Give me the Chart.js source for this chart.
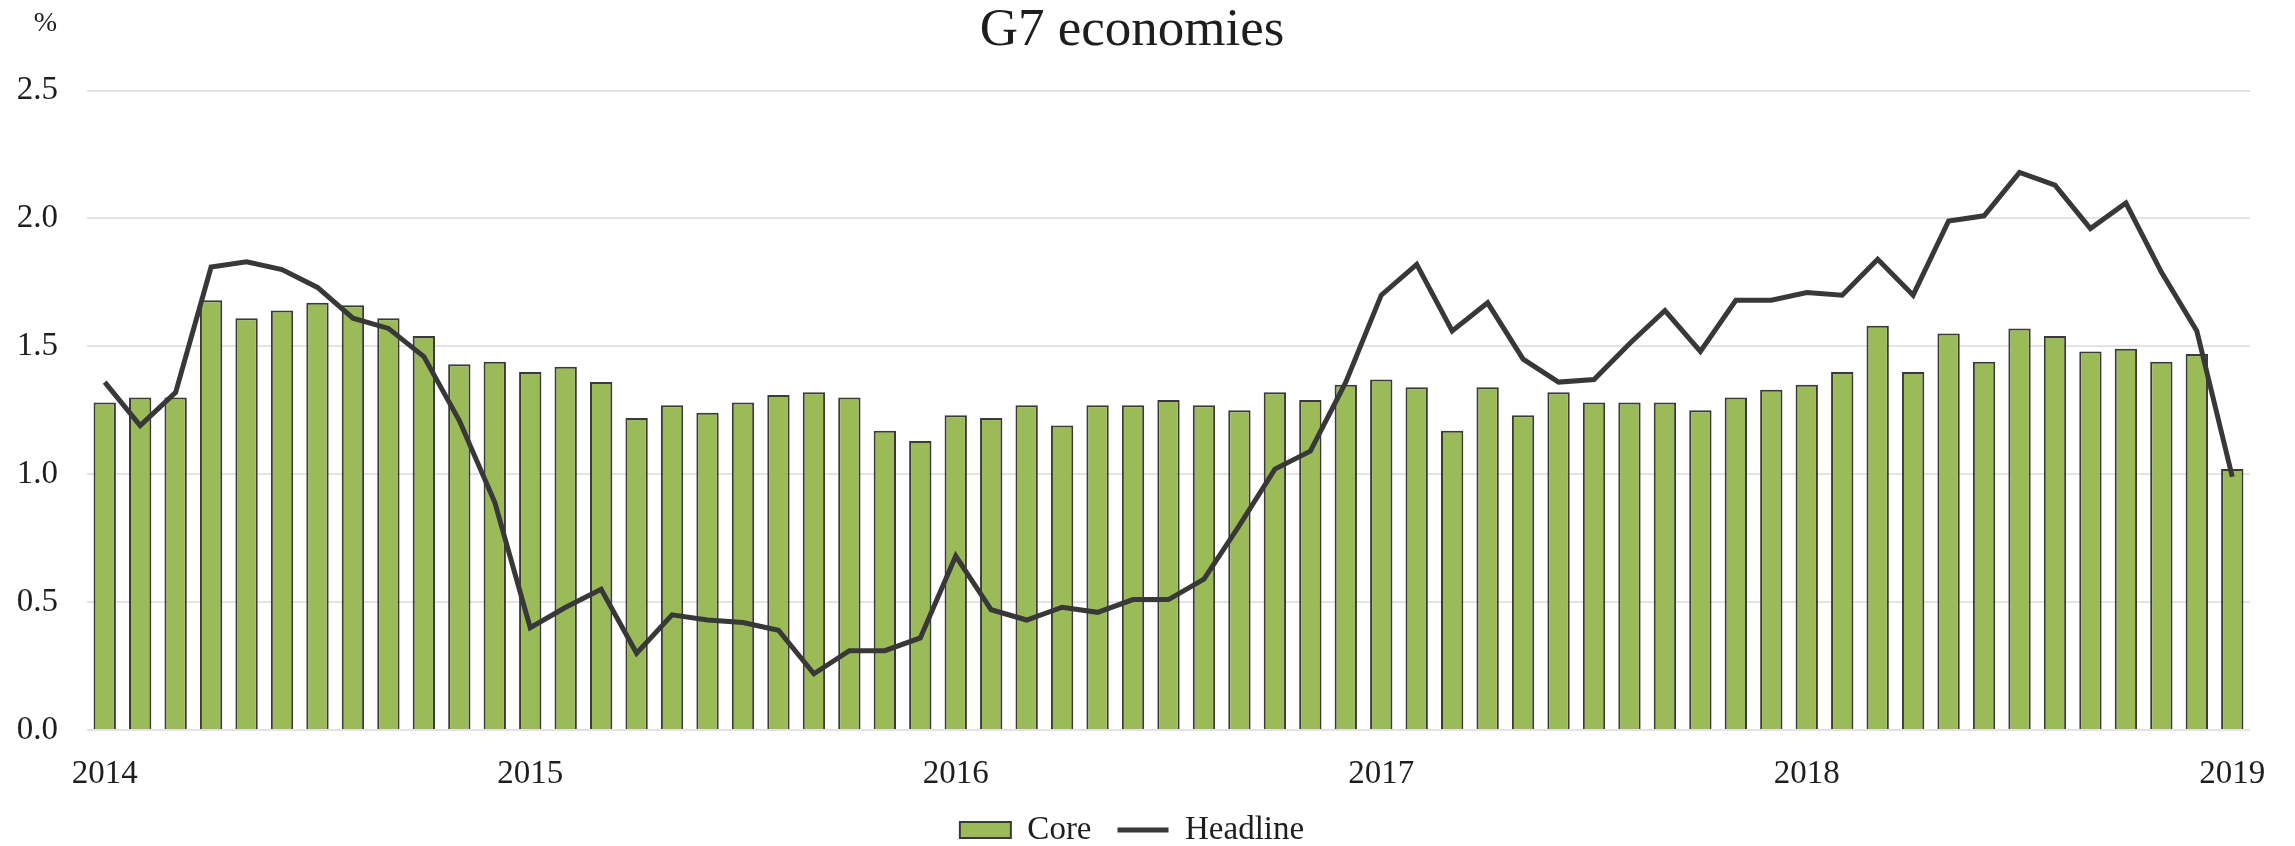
<!DOCTYPE html>
<html>
<head>
<meta charset="utf-8">
<script src="https://cdn.jsdelivr.net/npm/chart.js@4"></script>
<style>
  body { margin: 0; background: #fff; }
  #wrap { width: 2295px; height: 846px; }
</style>
</head>
<body>
<div id="wrap"><canvas id="chart" width="2295" height="846"></canvas></div>
<script>
// x axis: one category per month, Jan 2014 .. Jan 2019
const years = ['2014', '2015', '2016', '2017', '2018', '2019']
const month_names = ['Jan','Feb','Mar','Apr','May','Jun','Jul','Aug','Sep','Oct','Nov','Dec']

// core inflation, %
const core = [
    1.28, 1.30, 1.30, 1.68, 1.61, 1.64, 1.67, 1.66, 1.61, 1.54, 1.43, 1.44,
    1.40, 1.42, 1.36, 1.22, 1.27, 1.24, 1.28, 1.31, 1.32, 1.30, 1.17, 1.13,
    1.23, 1.22, 1.27, 1.19, 1.27, 1.27, 1.29, 1.27, 1.25, 1.32, 1.29, 1.35,
    1.37, 1.34, 1.17, 1.34, 1.23, 1.32, 1.28, 1.28, 1.28, 1.25, 1.30, 1.33,
    1.35, 1.40, 1.58, 1.40, 1.55, 1.44, 1.57, 1.54, 1.48, 1.49, 1.44, 1.47,
    1.02
]
// headline inflation, %
const headline = [
    1.36, 1.19, 1.32, 1.81, 1.83, 1.80, 1.73, 1.61, 1.57, 1.46, 1.21, 0.89,
    0.40, 0.48, 0.55, 0.30, 0.45, 0.43, 0.42, 0.39, 0.22, 0.31, 0.31, 0.36,
    0.68, 0.47, 0.43, 0.48, 0.46, 0.51, 0.51, 0.59, 0.80, 1.02, 1.09, 1.36,
    1.70, 1.82, 1.56, 1.67, 1.45, 1.36, 1.37, 1.51, 1.64, 1.48, 1.68, 1.68,
    1.71, 1.70, 1.84, 1.70, 1.99, 2.01, 2.18, 2.13, 1.96, 2.06, 1.79, 1.56,
    0.99
]

const labels = []
for (const y of years) {
    for (const m of month_names) {
        if (labels.length < core.length) labels.push(m + ' ' + y)
    }
}

const FONT = 'Liberation Serif'
const TEXT = '#1e1e1e'

// the "%" unit over the y axis
const unit_label = {
    id: 'unit_label',
    afterDraw(chart) {
        const ctx = chart.ctx
        ctx.save()
        ctx.font = `28px "${FONT}"`
        ctx.fillStyle = TEXT
        ctx.textAlign = 'right'
        ctx.textBaseline = 'middle'
        ctx.fillText('%', 57, 24)
        ctx.restore()
    }
}

new Chart(document.getElementById('chart').getContext('2d'), {
    data: {
        labels: labels,
        datasets: [
            {
                type: 'bar',
                label: 'Core',
                data: core,
                backgroundColor: '#9bbb59',
                borderColor: '#3a3a3a',
                borderWidth: 2,
                barPercentage: 0.63,
                categoryPercentage: 1,
                order: 1
            },
            {
                type: 'line',
                label: 'Headline',
                data: headline,
                borderColor: '#383838',
                backgroundColor: '#383838',
                borderWidth: 5,
                pointRadius: 0,
                tension: 0,
                order: 0
            }
        ]
    },
    options: {
        responsive: false,
        animation: false,
        devicePixelRatio: 1,
        // y labels are clipped to the axis box, so keep the axis wide enough for them
        layout: { padding: { left: 14, right: 45, top: 0, bottom: -10.5 } },
        scales: {
            x: {
                offset: true,
                grid: { display: false, drawTicks: false },
                border: { display: false },
                ticks: {
                    autoSkip: false,
                    maxRotation: 0,
                    padding: 25,
                    color: TEXT,
                    font: { family: FONT, size: 33 },
                    callback: function (value, index) {
                        return index % 12 === 0 ? years[index / 12] : ''
                    }
                },
                afterFit: scale => { scale.height = 57.5 }
            },
            y: {
                min: 0,
                max: 2.5,
                grid: { color: '#e3e3e3', lineWidth: 2, drawTicks: false },
                border: { display: false },
                ticks: {
                    stepSize: 0.5,
                    padding: 29,
                    color: TEXT,
                    font: { family: FONT, size: 33 },
                    callback: v => v.toFixed(1)
                },
                afterFit: scale => { scale.width = 73 }
            }
        },
        plugins: {
            title: {
                display: true,
                text: 'G7 economies',
                color: TEXT,
                font: { family: FONT, size: 53, weight: 'normal', lineHeight: 1 },
                padding: { top: 5, bottom: 32.5 }
            },
            legend: {
                position: 'bottom',
                labels: {
                    color: TEXT,
                    font: { family: FONT, size: 33 },
                    usePointStyle: true,
                    pointStyleWidth: 51,
                    boxHeight: 16,
                    padding: 26,
                    generateLabels: chart => chart.data.datasets.map((ds, i) => ({
                        text: ds.label,
                        datasetIndex: i,
                        fillStyle: ds.type === 'bar' ? ds.backgroundColor : ds.borderColor,
                        strokeStyle: ds.borderColor,
                        lineWidth: ds.type === 'bar' ? 2 : 5,
                        pointStyle: ds.type === 'bar' ? 'rect' : 'line',
                        fontColor: TEXT
                    }))
                }
            },
            tooltip: { enabled: false }
        }
    },
    plugins: [unit_label]
})
</script>
</body>
</html>
